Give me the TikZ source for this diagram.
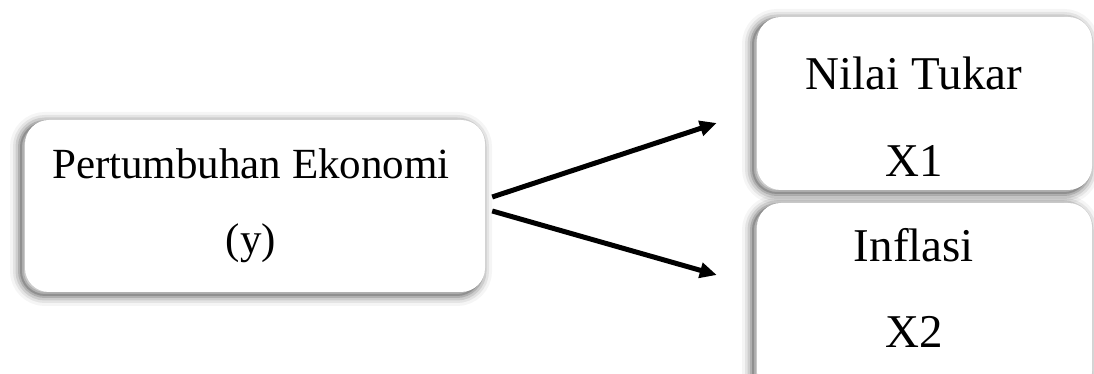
\documentclass[tikz,border=0pt]{standalone}
\usepackage{fontspec}
\setmainfont{Liberation Serif}
\usetikzlibrary{arrows.meta}
\tikzset{
  x=1pt,y=1pt,
  softshadow/.style={
    preaction={draw=black,line width=22pt,draw opacity=0.04,transform canvas={xshift=-4pt,yshift=-3pt}},
    preaction={draw=black,line width=16pt,draw opacity=0.07,transform canvas={xshift=-4pt,yshift=-3pt}},
    preaction={draw=black,line width=11pt,draw opacity=0.10,transform canvas={xshift=-4pt,yshift=-3pt}},
    preaction={draw=black,line width=6pt,draw opacity=0.14,transform canvas={xshift=-4pt,yshift=-3pt}},
    preaction={draw=black,line width=2pt,draw opacity=0.18,transform canvas={xshift=-4pt,yshift=-3pt}}
  },
  box/.style={rectangle,rounded corners=24pt,fill=white,draw=none,softshadow,inner sep=0pt},
  lefttxt/.style={anchor=base,inner sep=0pt,font=\fontsize{43}{50}\selectfont},
  righttxt/.style={anchor=base,inner sep=0pt,font=\fontsize{47}{54}\selectfont},
  conn/.style={line width=5pt,-{Triangle[length=17pt,width=15pt]}}
}
\begin{document}
\begin{tikzpicture}
\useasboundingbox (0,0) rectangle (1094,374);
\node[box,minimum width=460pt,minimum height=172pt] (left) at (255,168) {};
\node[box,minimum width=335pt,minimum height=173pt] (top) at (924.5,270.5) {};
\node[box,minimum width=335pt,minimum height=192pt] (bot) at (924.5,75) {};
\node[lefttxt] (l1) at (251,195) {Pertumbuhan Ekonomi};
\node[lefttxt] (l2) at (251,120) {(y)};
\node[righttxt] (t1) at (914,284) {Nilai Tukar};
\node[righttxt] (t2) at (914,197) {X1};
\node[righttxt] (b1) at (914,112) {Inflasi};
\node[righttxt] (b2) at (914,26) {X2};
\draw[conn] ([shift={(7,9)}]left.east) -- ([shift={(-40,-19.5)}]top.west);
\draw[conn] ([shift={(7,-5)}]left.east) -- ([shift={(-40,24)}]bot.west);
\end{tikzpicture}
\end{document}
